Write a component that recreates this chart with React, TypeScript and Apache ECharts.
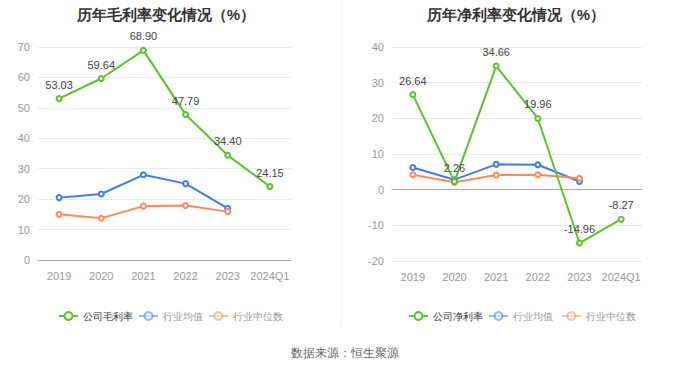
import React, { useEffect, useRef } from "react";
import * as echarts from "echarts";

const categories = ["2019", "2020", "2021", "2022", "2023", "2024Q1"];
const grossCompany = [53.03, 59.64, 68.9, 47.79, 34.4, 24.15];
const grossAvg = [20.5, 21.7, 28.0, 25.1, 17.0];
const grossMedian = [15.0, 13.7, 17.7, 17.9, 15.9];
const netCompany = [26.64, 2.26, 34.66, 19.96, -14.96, -8.27];
const netAvg = [6.2, 2.8, 7.1, 7.0, 2.3];
const netMedian = [4.2, 2.1, 4.1, 4.2, 3.2];

const GREEN = "#5cc42a";
const BLUE = "#3e7cf0";
const ORANGE = "#ff8a5c";

export default function App() {
  const ref = useRef<HTMLDivElement>(null);
  useEffect(() => {
    if (!ref.current) return;
    const chart = echarts.init(ref.current, undefined, { renderer: "svg" });
    const axisLabel = { color: "#999", fontSize: 11 };
    const splitLine = { lineStyle: { color: "#e6eaf3" } };
    const xAxisBase = {
      type: "category" as const,
      data: categories,
      axisLine: { lineStyle: { color: "#aaa" } },
      axisTick: { alignWithLabel: true, lineStyle: { color: "#aaa" } },
      axisLabel: { color: "#999", fontSize: 11, margin: 10, interval: 0 },
    };
    const lineSeries = (name: string, data: number[], color: string, xi: number, labels: boolean) => ({
      name,
      type: "line",
      xAxisIndex: xi,
      yAxisIndex: xi,
      data,
      symbol: "emptyCircle",
      symbolSize: 5,
      lineStyle: { width: 2, color },
      itemStyle: { color },
      label: labels
        ? { show: true, position: "top", color: "#444", fontSize: 11, formatter: (p: any) => p.value.toFixed(2) }
        : { show: false },
      z: labels ? 3 : 2,
    });
    const legendItems = (names: string[]) => [
      { name: names[0], textStyle: { color: "#333" } },
      { name: names[1], textStyle: { color: "#999" }, itemStyle: { opacity: 0.55 }, lineStyle: { opacity: 0.55 } },
      { name: names[2], textStyle: { color: "#999" }, itemStyle: { opacity: 0.55 }, lineStyle: { opacity: 0.55 } },
    ];
    const legendBase = { top: 306, itemWidth: 19, itemHeight: 10, itemGap: 5, width: 300, textStyle: { fontSize: 10, padding: [0, 0, 0, 0] } };
    chart.setOption({
      animation: false,
      title: [
        { text: "历年毛利率变化情况（%）", left: 161, top: 2, textAlign: "center", textStyle: { fontSize: 15, fontWeight: "bold", color: "#333" } },
        { text: "历年净利率变化情况（%）", left: 511, top: 2, textAlign: "center", textStyle: { fontSize: 15, fontWeight: "bold", color: "#333" } },
        { text: "数据来源：恒生聚源", left: 340, top: 342, textAlign: "center", textStyle: { fontSize: 12, fontWeight: "normal", color: "#666" } },
      ],
      legend: [
        { ...legendBase, left: 53, data: legendItems(["公司毛利率", "行业均值", "行业中位数"]) },
        { ...legendBase, left: 403, data: legendItems(["公司净利率", "行业均值 ", "行业中位数 "]) },
      ],
      grid: [
        { left: 38, top: 47, width: 253, height: 213 },
        { left: 392, top: 47, width: 250, height: 214 },
      ],
      xAxis: [
        { ...xAxisBase, gridIndex: 0 },
        { ...xAxisBase, gridIndex: 1 },
      ],
      yAxis: [
        { type: "value", gridIndex: 0, min: 0, max: 70, interval: 10, axisLabel, splitLine, axisLine: { show: false }, axisTick: { show: false } },
        { type: "value", gridIndex: 1, min: -20, max: 40, interval: 10, axisLabel, splitLine, axisLine: { show: false }, axisTick: { show: false } },
      ],
      graphic: [
        { type: "line", shape: { x1: 341.5, y1: 0, x2: 341.5, y2: 325 }, style: { stroke: "#f0f0f0", lineWidth: 1 } },
      ],
      series: [
        lineSeries("公司毛利率", grossCompany, GREEN, 0, true),
        lineSeries("行业均值", grossAvg, BLUE, 0, false),
        lineSeries("行业中位数", grossMedian, ORANGE, 0, false),
        lineSeries("公司净利率", netCompany, GREEN, 1, true),
        lineSeries("行业均值 ", netAvg, BLUE, 1, false),
        lineSeries("行业中位数 ", netMedian, ORANGE, 1, false),
      ],
    });
    return () => chart.dispose();
  }, []);
  return <div ref={ref} style={{ width: 680, height: 367, position: "absolute", left: 0, top: 0 }} />;
}
